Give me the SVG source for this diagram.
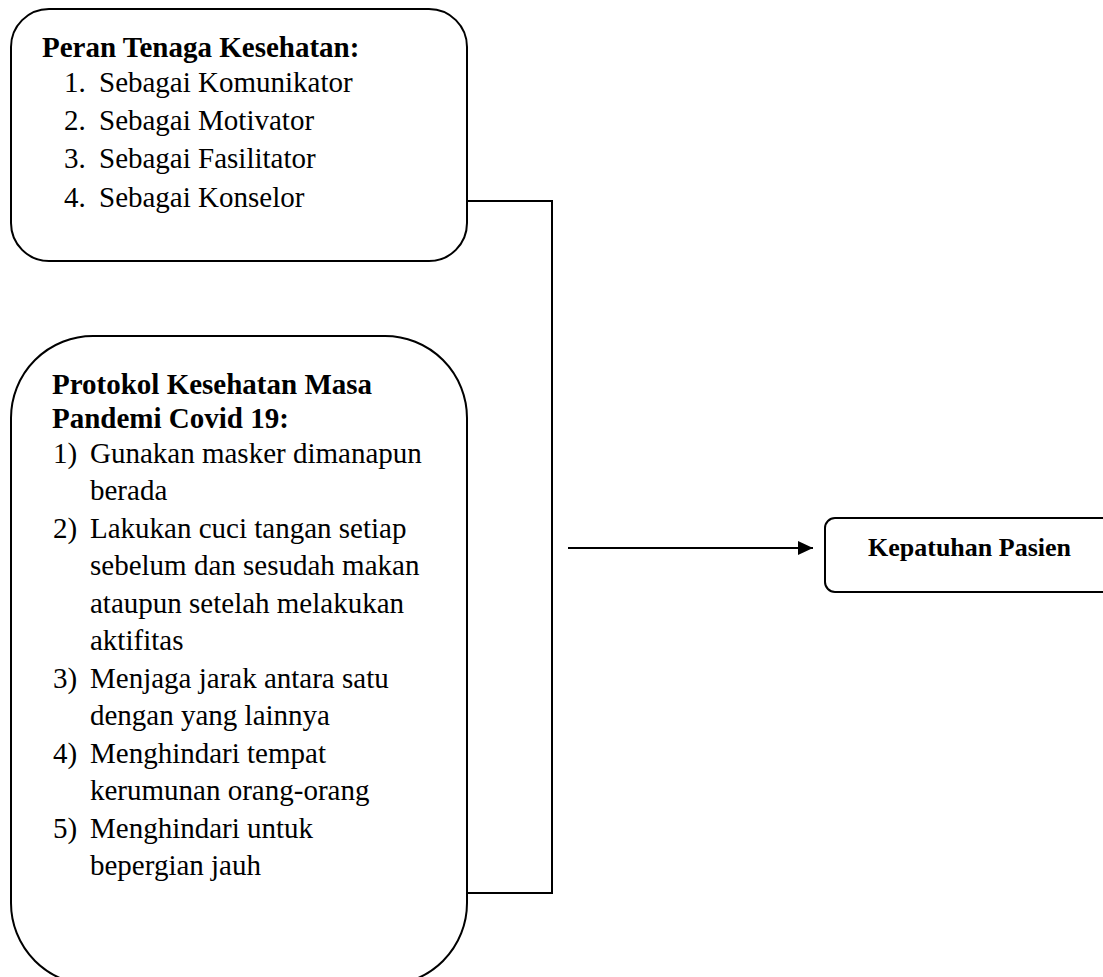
<svg xmlns="http://www.w3.org/2000/svg" width="1103" height="977" viewBox="0 0 1103 977">
<style>
.box{fill:#fff;stroke:#000;stroke-width:2}
.conn{fill:none;stroke:#000;stroke-width:2}
.t{font-family:"Liberation Serif","Times New Roman",serif;font-size:29px;fill:#000}
.b{font-weight:bold}
</style>
<defs>
<marker id="arr" markerWidth="15" markerHeight="14" refX="15" refY="7" orient="auto" markerUnits="userSpaceOnUse">
<path d="M0,0 L15,7 L0,14 Z" fill="#000"/>
</marker>
</defs>
<rect width="1103" height="977" fill="#fff"/>
<g id="connectors">
<path class="conn" d="M467,201 H552 V893 H467"/>
<line class="conn" x1="568" y1="548" x2="813" y2="548" marker-end="url(#arr)"/>
</g>
<g id="peran">
<rect class="box" x="11" y="9" width="456" height="252" rx="38" ry="38"/>
<text class="t b" x="42" y="57">Peran Tenaga Kesehatan:</text>
<text class="t" x="64" y="92">1.</text><text class="t" x="99" y="92">Sebagai Komunikator</text>
<text class="t" x="64" y="130">2.</text><text class="t" x="99" y="130">Sebagai Motivator</text>
<text class="t" x="64" y="168">3.</text><text class="t" x="99" y="168">Sebagai Fasilitator</text>
<text class="t" x="64" y="207">4.</text><text class="t" x="99" y="207">Sebagai Konselor</text>
</g>
<g id="protokol">
<rect class="box" x="11" y="336" width="456" height="649" rx="82" ry="82"/>
<text class="t b" x="52" y="394">Protokol Kesehatan Masa</text>
<text class="t b" x="52" y="428">Pandemi Covid 19:</text>
<text class="t" x="53" y="463">1)</text><text class="t" x="90" y="463">Gunakan masker dimanapun</text>
<text class="t" x="90" y="500">berada</text>
<text class="t" x="53" y="538">2)</text><text class="t" x="90" y="538">Lakukan cuci tangan setiap</text>
<text class="t" x="90" y="575">sebelum dan sesudah makan</text>
<text class="t" x="90" y="613">ataupun setelah melakukan</text>
<text class="t" x="90" y="650">aktifitas</text>
<text class="t" x="53" y="688">3)</text><text class="t" x="90" y="688">Menjaga jarak antara satu</text>
<text class="t" x="90" y="725">dengan yang lainnya</text>
<text class="t" x="53" y="763">4)</text><text class="t" x="90" y="763">Menghindari tempat</text>
<text class="t" x="90" y="800">kerumunan orang-orang</text>
<text class="t" x="53" y="838">5)</text><text class="t" x="90" y="838">Menghindari untuk</text>
<text class="t" x="90" y="875">bepergian jauh</text>
</g>
<g id="kepatuhan">
<rect class="box" x="825" y="518" width="300" height="74" rx="10" ry="10"/>
<text class="t b" x="868" y="556" style="font-size:26px">Kepatuhan Pasien</text>
</g>
</svg>
